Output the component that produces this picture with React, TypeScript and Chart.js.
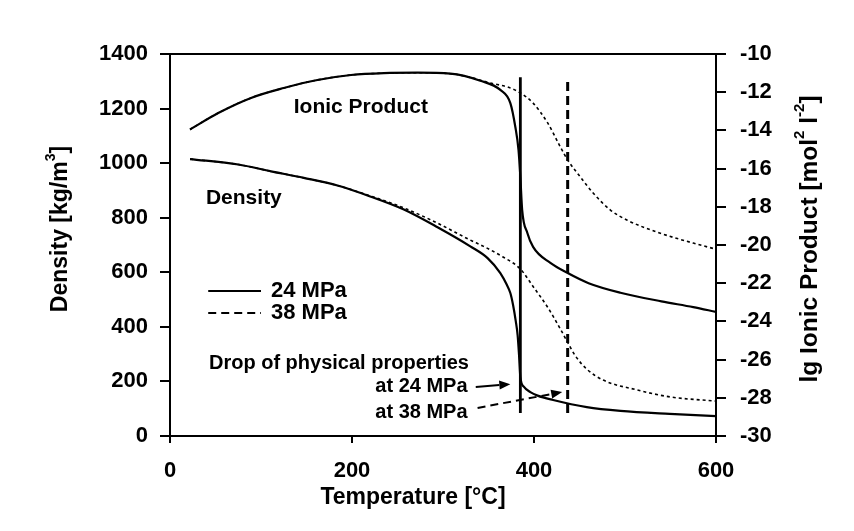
import React, { useEffect, useRef } from "react";
import { Chart, registerables } from "chart.js";

Chart.register(...registerables);

const FONT = "'Liberation Sans', Arial, Helvetica, sans-serif";

// Axis ranges and tick spacing
const TEMP_RANGE = [0, 600];
const TEMP_STEP = 200;
const DENSITY_RANGE = [0, 1400];
const DENSITY_STEP = 200;
const IONIC_RANGE = [-30, -10];
const IONIC_STEP = 2;

// Ionic product (lg Kw) at 24 MPa
const ionic24Temp = [22, 53, 89, 125, 162, 199, 235, 272, 308, 341, 363, 374, 379.5, 383, 385, 387, 392.7, 399, 418, 437, 460, 495, 540, 575, 600];
const ionic24Value = [-13.95, -13.09, -12.3, -11.78, -11.36, -11.1, -11.0, -10.98, -11.03, -11.4, -11.88, -12.57, -13.82, -15.03, -16.44, -18.17, -19.37, -20.1, -20.94, -21.47, -22.0, -22.5, -22.95, -23.25, -23.5];

// Ionic product (lg Kw) at 38 MPa
const ionic38Temp = [22, 53, 89, 125, 162, 199, 235, 272, 308, 332, 352, 371, 385, 399, 415, 429, 437, 451, 465, 484, 502, 538, 575, 600];
const ionic38Value = [-13.95, -13.09, -12.3, -11.78, -11.36, -11.1, -11.0, -10.98, -11.03, -11.25, -11.52, -11.73, -12.04, -12.57, -13.61, -14.87, -15.55, -16.44, -17.28, -18.17, -18.69, -19.37, -19.9, -20.22];

// Density [kg/m3] at 24 MPa
const density24Temp = [22, 75, 111, 147, 184, 220, 257, 294, 330, 349, 363, 370, 374, 377, 380, 382, 383.5, 385, 389, 396, 404, 421, 458, 495, 549, 600];
const density24Value = [1015, 995, 970, 946, 918, 878, 830, 765, 695, 652, 597, 555, 524, 480, 420, 370, 300, 216, 180, 161, 148, 132, 106, 92, 81, 73];

// Density [kg/m3] at 38 MPa
const density38Temp = [22, 75, 111, 147, 184, 220, 257, 294, 330, 344, 366, 385, 399, 415, 429, 437, 445, 458, 476, 513, 550, 600];
const density38Value = [1015, 995, 970, 946, 918, 880, 836, 780, 718, 696, 656, 612, 548, 472, 392, 343, 296, 245, 205, 169, 143, 128];

// Temperatures where the properties drop, and the density span of the marker lines
const dropTemp24 = 385;
const dropTemp38 = 437;
const markerSpan = [84, 1315];

const pairs = (xs: number[], ys: number[]) => xs.map((x, i) => ({ x, y: ys[i] }));

type Seg = { t: string; sup?: boolean };

function drawRich(ctx: CanvasRenderingContext2D, segs: Seg[], cx: number, cy: number, size: number, rotate: boolean) {
  ctx.save();
  ctx.translate(cx, cy);
  if (rotate) ctx.rotate(-Math.PI / 2);
  const base = `bold ${size}px ${FONT}`;
  const small = `bold ${Math.round(size * 0.62)}px ${FONT}`;
  let w = 0;
  for (const s of segs) {
    ctx.font = s.sup ? small : base;
    w += ctx.measureText(s.t).width;
  }
  let x = -w / 2;
  ctx.textBaseline = "middle";
  ctx.textAlign = "left";
  ctx.fillStyle = "#000";
  for (const s of segs) {
    ctx.font = s.sup ? small : base;
    ctx.fillText(s.t, x, s.sup ? -size * 0.42 : 0);
    x += ctx.measureText(s.t).width;
  }
  ctx.restore();
}

function arrow(ctx: CanvasRenderingContext2D, x1: number, y1: number, x2: number, y2: number, dash: number[]) {
  const ang = Math.atan2(y2 - y1, x2 - x1);
  const head = 11;
  const half = 4.5;
  const bx = x2 - head * Math.cos(ang);
  const by = y2 - head * Math.sin(ang);
  ctx.save();
  ctx.strokeStyle = "#000";
  ctx.fillStyle = "#000";
  ctx.lineWidth = 2;
  ctx.setLineDash(dash);
  ctx.beginPath();
  ctx.moveTo(x1, y1);
  ctx.lineTo(bx, by);
  ctx.stroke();
  ctx.setLineDash([]);
  ctx.beginPath();
  ctx.moveTo(x2, y2);
  ctx.lineTo(bx + half * Math.sin(ang), by - half * Math.cos(ang));
  ctx.lineTo(bx - half * Math.sin(ang), by + half * Math.cos(ang));
  ctx.closePath();
  ctx.fill();
  ctx.restore();
}

const overlay = {
  id: "overlay",
  afterDatasetsDraw(chart: any) {
    const { ctx, chartArea, scales } = chart;
    const px = (t: number) => scales.x.getPixelForValue(t);
    const py = (d: number) => scales.y.getPixelForValue(d);
    ctx.save();

    // top frame line
    ctx.strokeStyle = "#000";
    ctx.lineWidth = 2;
    ctx.beginPath();
    ctx.moveTo(chartArea.left - 1, chartArea.top);
    ctx.lineTo(chartArea.right + 1, chartArea.top);
    ctx.stroke();

    // curve labels
    ctx.fillStyle = "#000";
    ctx.font = `bold 21px ${FONT}`;
    ctx.textBaseline = "middle";
    ctx.textAlign = "left";
    ctx.fillText("Ionic Product", px(136), py(1205));
    ctx.fillText("Density", px(39.5), py(872));

    // legend
    ctx.lineWidth = 2;
    ctx.beginPath();
    ctx.moveTo(px(42), py(531));
    ctx.lineTo(px(100), py(531));
    ctx.stroke();
    ctx.setLineDash([8, 5]);
    ctx.beginPath();
    ctx.moveTo(px(42), py(451));
    ctx.lineTo(px(100), py(451));
    ctx.stroke();
    ctx.setLineDash([]);
    ctx.font = `bold 22px ${FONT}`;
    ctx.fillText("24 MPa", px(111), py(531));
    ctx.fillText("38 MPa", px(111), py(451));

    // annotation of the property drop
    ctx.font = `bold 20px ${FONT}`;
    ctx.fillText("Drop of physical properties", px(42.8), py(264));
    ctx.textAlign = "right";
    ctx.fillText("at 24 MPa", px(327), py(180));
    ctx.fillText("at 38 MPa", px(327), py(88));
    ctx.restore();

    arrow(ctx, px(336), py(180), px(374), py(190), []);
    arrow(ctx, px(338), py(103), px(431), py(161), [8, 5]);

    // axis titles
    const midX = (chartArea.left + chartArea.right) / 2;
    drawRich(ctx, [{ t: "Density [kg/m" }, { t: "3", sup: true }, { t: "]" }], 61, 229, 23, true);
    drawRich(ctx, [{ t: "lg Ionic Product [mol" }, { t: "2", sup: true }, { t: " l" }, { t: "-2", sup: true }, { t: "]" }], 810, 239, 24.5, true);
    drawRich(ctx, [{ t: "Temperature [°C]" }], midX - 30, 498, 23, false);
  },
};

export default function App() {
  const ref = useRef<HTMLCanvasElement>(null);

  useEffect(() => {
    const tickFont = { family: FONT, size: 22, weight: "bold" as const };
    const plain = (v: any) => String(v);
    const axisGrid = (len: number) => ({
      display: true,
      drawOnChartArea: false,
      drawTicks: true,
      tickLength: len,
      color: "#000",
      lineWidth: 2,
    });
    const border = { display: true, color: "#000", width: 2 };

    const chart = new Chart(ref.current!, {
      type: "line",
      data: {
        datasets: [
          {
            data: pairs(ionic24Temp, ionic24Value),
            yAxisID: "y2",
            borderColor: "#000",
            borderWidth: 2.2,
            pointRadius: 0,
            cubicInterpolationMode: "monotone",
          },
          {
            data: pairs(ionic38Temp, ionic38Value),
            yAxisID: "y2",
            borderColor: "#000",
            borderWidth: 1.6,
            borderDash: [3, 3],
            pointRadius: 0,
            cubicInterpolationMode: "monotone",
          },
          {
            data: pairs(density24Temp, density24Value),
            yAxisID: "y",
            borderColor: "#000",
            borderWidth: 2.2,
            pointRadius: 0,
            cubicInterpolationMode: "monotone",
          },
          {
            data: pairs(density38Temp, density38Value),
            yAxisID: "y",
            borderColor: "#000",
            borderWidth: 1.6,
            borderDash: [3, 3],
            pointRadius: 0,
            cubicInterpolationMode: "monotone",
          },
          {
            data: markerSpan.map((d) => ({ x: dropTemp24, y: d })),
            yAxisID: "y",
            borderColor: "#000",
            borderWidth: 2.8,
            pointRadius: 0,
            tension: 0,
          },
          {
            data: markerSpan.map((d) => ({ x: dropTemp38, y: d })),
            yAxisID: "y",
            borderColor: "#000",
            borderWidth: 3,
            borderDash: [9, 5],
            pointRadius: 0,
            tension: 0,
          },
        ],
      },
      options: {
        responsive: false,
        devicePixelRatio: 1,
        animation: false,
        layout: { padding: { top: 54, left: 0, right: 0, bottom: 0 } },
        plugins: { legend: { display: false }, tooltip: { enabled: false } },
        scales: {
          x: {
            type: "linear",
            position: "bottom",
            min: TEMP_RANGE[0],
            max: TEMP_RANGE[1],
            ticks: { stepSize: TEMP_STEP, font: tickFont, color: "#000", padding: 15, maxRotation: 0, callback: plain },
            grid: axisGrid(7),
            border,
            afterFit: (s: any) => {
              s.height = 95;
            },
          },
          y: {
            position: "left",
            min: DENSITY_RANGE[0],
            max: DENSITY_RANGE[1],
            ticks: { stepSize: DENSITY_STEP, font: tickFont, color: "#000", padding: 12, callback: plain },
            grid: axisGrid(10),
            border,
            afterFit: (s: any) => {
              s.width = 170;
            },
          },
          y2: {
            position: "right",
            min: IONIC_RANGE[0],
            max: IONIC_RANGE[1],
            ticks: { stepSize: IONIC_STEP, font: tickFont, color: "#000", padding: 14, callback: plain },
            grid: axisGrid(10),
            border,
            afterFit: (s: any) => {
              s.width = 138;
            },
          },
        },
      },
      plugins: [overlay],
    } as any);

    return () => chart.destroy();
  }, []);

  return (
    <div style={{ position: "absolute", left: 0, top: 0, width: 854, height: 531, background: "#fff" }}>
      <canvas ref={ref} width={854} height={531} style={{ display: "block", width: 854, height: 531 }} />
    </div>
  );
}
